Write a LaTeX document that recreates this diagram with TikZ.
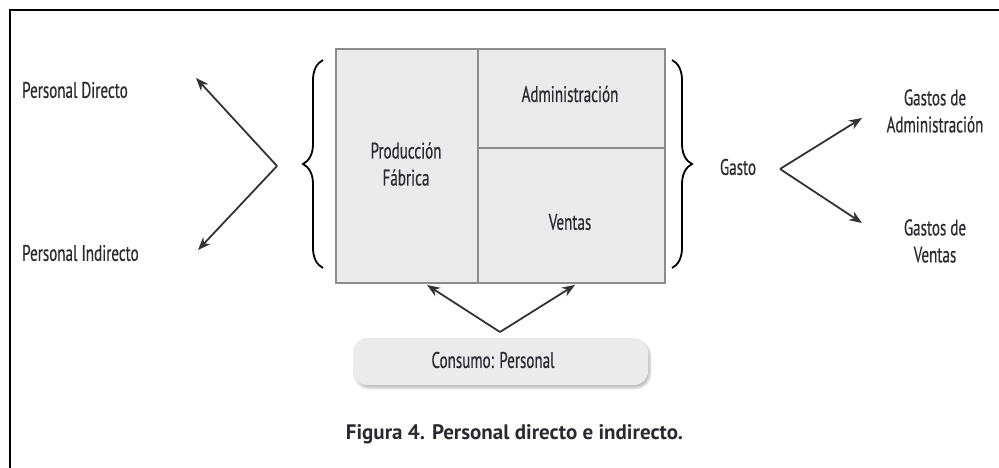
\documentclass[tikz,border=0pt]{standalone}
\usepackage{fontspec}
\setmainfont{PT Sans}
\newfontfamily\cond[FakeStretch=0.67,FakeBold=0.4]{PT Sans}
\usetikzlibrary{arrows.meta,decorations.pathreplacing,shadows.blur}
\definecolor{boxfill}{HTML}{EBEBEB}
\definecolor{boxline}{HTML}{8C8C8C}
\definecolor{txt}{HTML}{2A2A30}
\definecolor{arr}{HTML}{333333}
\begin{document}
\begin{tikzpicture}[x=1pt,y=-1pt,
  lbl/.style={font=\cond\fontsize{22.5}{27}\selectfont, text=txt, inner sep=0pt, align=center},
  cell/.style={draw=boxline, line width=1.6pt, fill=boxfill, inner sep=0pt, anchor=north west},
  arrw/.style={draw=arr, line width=1.8pt, -{Stealth[length=13pt,width=10pt]}},
  brc/.style={draw=black, line width=1.8pt, decorate, decoration={brace, amplitude=20pt}}]
\useasboundingbox (0,0) rectangle (999,468);
% frame (top and left edges)
\draw[line width=1.2pt] (10,468) -- (10,10) -- (999,10);
% central block
\node[cell, minimum width=142pt, minimum height=234pt] (prod) at (335,48) {};
\node[cell, minimum width=187pt, minimum height=99pt] (adm) at (477,48) {};
\node[cell, minimum width=187pt, minimum height=135pt] (ven) at (477,147) {};
\node[lbl] (prodt) at (406,164) {Producción\\Fábrica};
\node[lbl] (admt) at (570,94) {Administración};
\node[lbl] (vent) at (570,222) {Ventas};
% braces
\coordinate (lb1) at (323,268);
\coordinate (lb2) at (323,60);
\coordinate (rb1) at (672,60);
\coordinate (rb2) at (672,268);
\draw[brc] (lb1) -- (lb2);
\draw[brc] (rb1) -- (rb2);
% left side
\node[lbl, anchor=west] (pd) at (22,90) {Personal Directo};
\node[lbl, anchor=west] (pi) at (22,253) {Personal Indirecto};
\coordinate (vl) at (277,166);
\coordinate (tpd) at (196,78);
\coordinate (tpi) at (198,250);
\draw[arrw] (vl) -- (tpd);
\draw[arrw] (vl) -- (tpi);
% right side
\node[lbl] (gasto) at (738,167) {Gasto};
\node[lbl] (ga) at (935,111) {Gastos de\\Administración};
\node[lbl] (gv) at (935,241) {Gastos de\\Ventas};
\coordinate (vr) at (780,169);
\coordinate (tga) at (862,118);
\coordinate (tgv) at (862,223);
\draw[arrw] (vr) -- (tga);
\draw[arrw] (vr) -- (tgv);
% bottom
\node[fill=boxfill, rounded corners=14pt, minimum width=295pt, minimum height=47pt, inner sep=0pt,
  blur shadow={shadow xshift=2pt, shadow yshift=-3pt, shadow blur steps=8, shadow opacity=25}] (cons) at (500.5,361.5) {};
\node[lbl] (const) at (493,360) {Consumo: Personal};
\coordinate (vb) at (500,332);
\coordinate (tb1) at (427,285);
\coordinate (tb2) at (575,285);
\draw[arrw] (vb) -- (tb1);
\draw[arrw] (vb) -- (tb2);
% caption
\node[font=\bfseries\fontsize{21}{25}\selectfont, text=txt, inner sep=0pt] (cap) at (514.5,434) {Figura 4. Personal directo e indirecto.};
\end{tikzpicture}
\end{document}
